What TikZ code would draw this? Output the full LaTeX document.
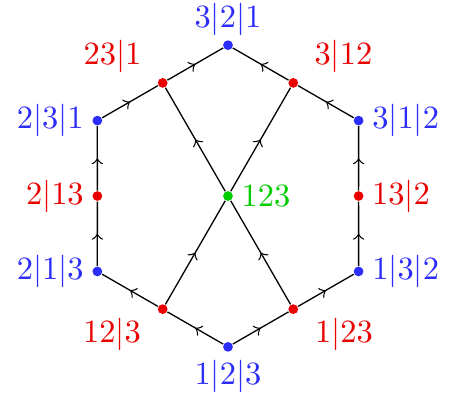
\documentclass[tikz,border=0pt]{standalone}
\usepackage{xcolor}
\usepackage{tikz}
\usetikzlibrary{positioning,decorations.markings}
\definecolor{permblue}{RGB}{45, 45, 250}
\definecolor{permred}{RGB}{235, 0, 0}
\definecolor{permgreen}{RGB}{0, 205, 0}
\tikzset{
  vtx/.style={circle, fill=#1, inner sep=0pt, minimum size=3pt},
  midarrow/.style={postaction={decorate}, decoration={markings, mark=at position 0.5 with {\arrow{>}}}},
  every label/.style={inner sep=1pt}
}

\begin{document}
\begin{tikzpicture}[label distance=1.3pt]
  \useasboundingbox (-2.468,-2.149) rectangle (2.436,2.122);
  \def\R{1.633}
  \def\r{1.414}

  % corners of the hexagon
  \node[vtx=permblue, label={[permblue, label distance=0pt]above:$3|2|1$}] (v321) at (90:\R) {};
  \node[vtx=permblue, label={[permblue]right:$3|1|2$}] (v312) at (30:\R) {};
  \node[vtx=permblue, label={[permblue]right:$1|3|2$}] (v132) at (-30:\R) {};
  \node[vtx=permblue, label={[permblue]below:$1|2|3$}] (v123) at (-90:\R) {};
  \node[vtx=permblue, label={[permblue]left:$2|1|3$}] (v213) at (210:\R) {};
  \node[vtx=permblue, label={[permblue]left:$2|3|1$}] (v231) at (150:\R) {};

  % middles of the sides
  \node[vtx=permred, label={[permred, label distance=4pt]20:$3|12$}] (p3x12) at (60:\r) {};
  \node[vtx=permred, label={[permred]right:$13|2$}] (p13x2) at (0:\r) {};
  \node[vtx=permred, label={[permred, label distance=4pt]-15:$1|23$}] (p1x23) at (-60:\r) {};
  \node[vtx=permred, label={[permred, label distance=4pt]195:$12|3$}] (p12x3) at (240:\r) {};
  \node[vtx=permred, label={[permred]left:$2|13$}] (p2x13) at (180:\r) {};
  \node[vtx=permred, label={[permred, label distance=4pt]160:$23|1$}] (p23x1) at (120:\r) {};

  \node[vtx=permgreen, label={[permgreen]right:$123$}] (c123) at (0,0) {};

  \draw[midarrow] (v213) -- (p2x13);
  \draw[midarrow] (p2x13) -- (v231);
  \draw[midarrow] (v132) -- (p13x2);
  \draw[midarrow] (p13x2) -- (v312);
  \draw[midarrow] (v231) -- (p23x1);
  \draw[midarrow] (p23x1) -- (v321);
  \draw[midarrow] (v312) -- (p3x12);
  \draw[midarrow] (p3x12) -- (v321);
  \draw[midarrow] (v123) -- (p12x3);
  \draw[midarrow] (p12x3) -- (v213);
  \draw[midarrow] (v123) -- (p1x23);
  \draw[midarrow] (p1x23) -- (v132);
  \draw[midarrow] (p12x3) -- (c123);
  \draw[midarrow] (c123) -- (p23x1);
  \draw[midarrow] (p1x23) -- (c123);
  \draw[midarrow] (c123) -- (p3x12);
\end{tikzpicture}
\end{document}
